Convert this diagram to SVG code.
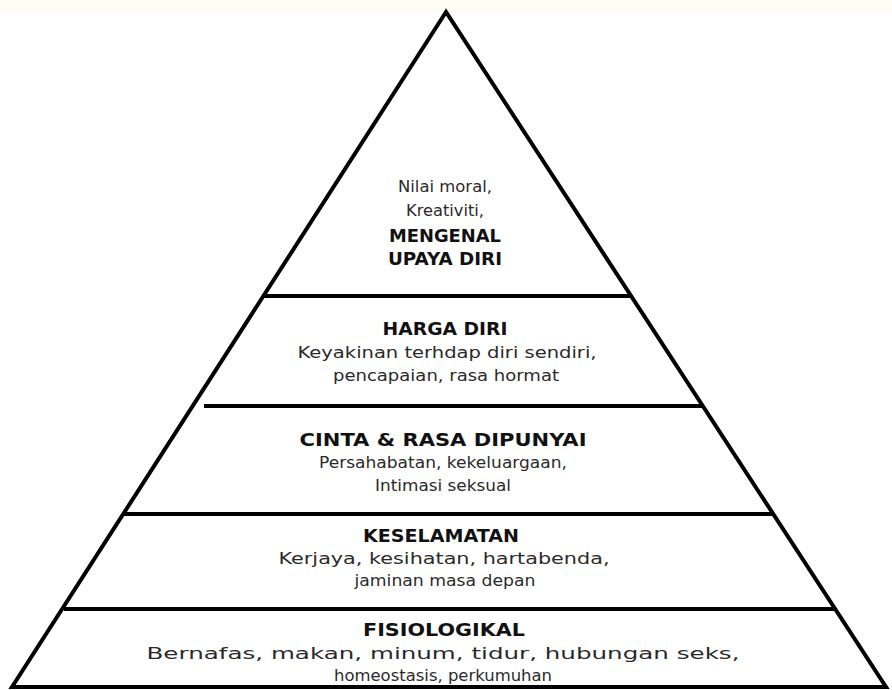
<svg xmlns="http://www.w3.org/2000/svg" width="892" height="690" viewBox="0 0 892 690">
<style>
.ln{stroke:#000;stroke-width:4;fill:none;stroke-linejoin:miter}
.t{font-family:"DejaVu Sans","Liberation Sans",sans-serif;font-size:16.5px;fill:#2a2a2a;text-anchor:middle}
.b{font-family:"DejaVu Sans","Liberation Sans",sans-serif;font-size:18px;font-weight:bold;fill:#111;text-anchor:middle}
</style>
<rect width="892" height="690" fill="#fff"/>
<rect width="892" height="14" fill="#fdfdf6"/>
<g id="connectors">
<polygon class="ln" points="446,12 12,687 886,687"/>
<line class="ln" x1="262" y1="296" x2="632" y2="296"/>
<line class="ln" x1="204" y1="406" x2="702" y2="406"/>
<line class="ln" x1="124" y1="514" x2="774" y2="514"/>
<line class="ln" x1="64" y1="609" x2="836" y2="609"/>
</g>
<g id="tier5">
<text class="t" x="445" y="192" textLength="94" lengthAdjust="spacingAndGlyphs">Nilai  moral,</text>
<text class="t" x="445" y="216" textLength="78" lengthAdjust="spacingAndGlyphs">Kreativiti,</text>
<text class="b" x="445" y="242" textLength="112" lengthAdjust="spacingAndGlyphs">MENGENAL</text>
<text class="b" x="445" y="265" textLength="114" lengthAdjust="spacingAndGlyphs">UPAYA DIRI</text>
</g>
<g id="tier4">
<text class="b" x="445" y="335" textLength="125" lengthAdjust="spacingAndGlyphs">HARGA DIRI</text>
<text class="t" x="447" y="358" textLength="299" lengthAdjust="spacingAndGlyphs">Keyakinan terhdap diri sendiri,</text>
<text class="t" x="446" y="381" textLength="226" lengthAdjust="spacingAndGlyphs">pencapaian, rasa hormat</text>
</g>
<g id="tier3">
<text class="b" x="443" y="446" textLength="287" lengthAdjust="spacingAndGlyphs">CINTA &amp; RASA DIPUNYAI</text>
<text class="t" x="443" y="468" textLength="248" lengthAdjust="spacingAndGlyphs">Persahabatan, kekeluargaan,</text>
<text class="t" x="443" y="491" textLength="136" lengthAdjust="spacingAndGlyphs">Intimasi seksual</text>
</g>
<g id="tier2">
<text class="b" x="441" y="542" textLength="156" lengthAdjust="spacingAndGlyphs">KESELAMATAN</text>
<text class="t" x="444" y="564" textLength="331" lengthAdjust="spacingAndGlyphs">Kerjaya, kesihatan, hartabenda,</text>
<text class="t" x="445" y="586" textLength="181" lengthAdjust="spacingAndGlyphs">jaminan masa depan</text>
</g>
<g id="tier1">
<text class="b" x="444" y="636" textLength="162" lengthAdjust="spacingAndGlyphs">FISIOLOGIKAL</text>
<text class="t" x="443" y="659" textLength="593" lengthAdjust="spacingAndGlyphs">Bernafas, makan, minum, tidur,  hubungan seks,</text>
<text class="t" x="443" y="681" textLength="218" lengthAdjust="spacingAndGlyphs">homeostasis, perkumuhan</text>
</g>
</svg>
